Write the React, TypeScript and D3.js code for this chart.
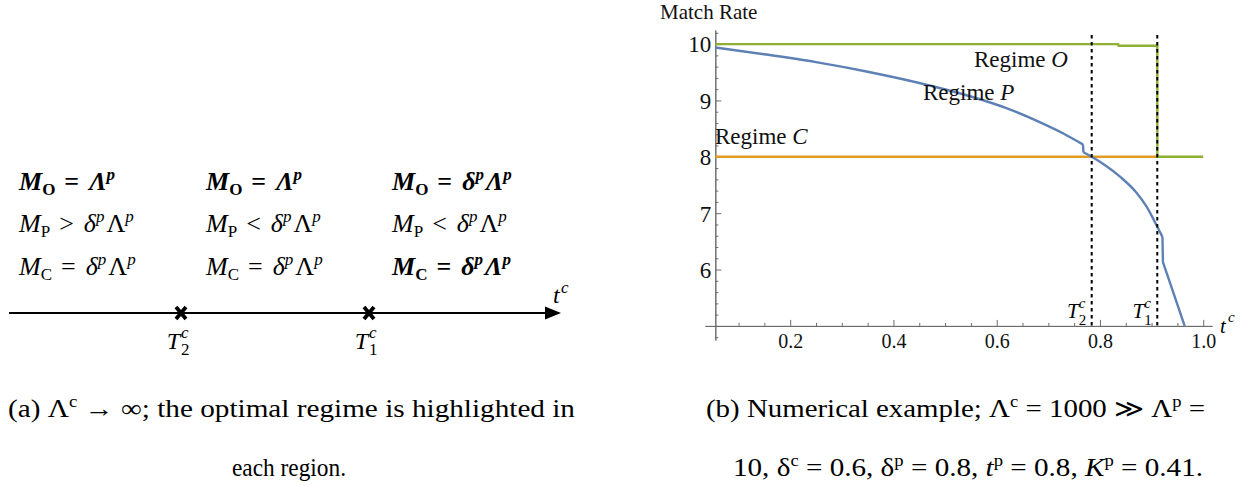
import { useEffect, useRef } from "react";
import * as d3 from "d3";

const W = 1250;
const H = 486;
const SERIF = "'Liberation Serif', 'Times New Roman', serif";

// ---- panel (b) data ----
// blue curve, split into smooth pieces at the two small jumps
const blueT = [0.055, 0.15, 0.25, 0.35, 0.45, 0.55, 0.62, 0.68, 0.73, 0.767, 0.768, 0.784, 0.81, 0.84, 0.87, 0.89, 0.911, 0.921, 0.922, 0.94, 0.964];
const blueV = [9.94, 9.82, 9.68, 9.51, 9.31, 9.07, 8.86, 8.63, 8.41, 8.22, 8.08, 8.0, 7.85, 7.64, 7.37, 7.12, 6.76, 6.58, 6.13, 5.65, 5.0];
const blueJumps = [9, 17]; // index where a vertical jump starts
const greenT = [0.055, 0.835, 0.836, 0.911, 0.9111, 1.0];
const greenV = [10, 10, 9.97, 9.97, 8, 8];
const orangeT = [0.055, 0.911];
const orangeV = [8, 8];
const thresholdT = [0.784, 0.911];
const thresholdSub = ["2", "1"];
const xMajor = [0.2, 0.4, 0.6, 0.8, 1.0];
const yMajor = [6, 7, 8, 9, 10];
const regimeNames = ["O", "P", "C"];
const regimeLabelX = [974, 923, 715];
const regimeLabelY = [67, 100, 144];

// ---- panel (a) data ----
const regimeRows = ["O", "P", "C"];
const relations = [
  ["=", "=", "="],
  [">", "<", "<"],
  ["=", "=", "="],
];
const rhsKind = [
  ["L", "L", "dL"],
  ["dL", "dL", "dL"],
  ["dL", "dL", "dL"],
];
const boldCells = [
  [true, true, true],
  [false, false, false],
  [false, false, true],
];
const colX = [19, 206, 392];
const rowY = [190, 232, 275];
const aMarks = ["2", "1"];
const aMarkX = [181, 369];

const xScale = d3.scaleLinear().domain([0.035, 1.017]).range([705, 1212]);
const yScale = d3.scaleLinear().domain([4.75, 10.25]).range([340, 30]);

const lineGen = (ts: number[], vs: number[], curve: any = d3.curveLinear) =>
  d3.line<number>()
    .x((_, i) => xScale(ts[i]))
    .y((v) => yScale(v))
    .curve(curve)(vs) || "";

function bluePath() {
  const cuts = [0, ...blueJumps.map((j) => j + 1), blueT.length];
  let d = "";
  for (let k = 0; k < cuts.length - 1; k++) {
    const ts = blueT.slice(cuts[k], cuts[k + 1]);
    const vs = blueV.slice(cuts[k], cuts[k + 1]);
    d += lineGen(ts, vs, d3.curveMonotoneX);
  }
  blueJumps.forEach((j) => {
    d += lineGen([blueT[j], blueT[j + 1]], [blueV[j], blueV[j + 1]]);
  });
  return d;
}

function MathCell({ x, y, reg, rel, kind, bold }: any) {
  const lam = bold ? "italic" : "normal";
  return (
    <text x={x} y={y} fontFamily={SERIF} fontSize={26} fontWeight={bold ? 700 : 400}>
      <tspan fontStyle="italic">M</tspan>
      <tspan fontSize={17} dy={5}>{reg}</tspan>
      <tspan dy={-5} dx={9}>{rel}</tspan>
      {kind === "dL" ? (
        <>
          <tspan fontStyle="italic" dx={10}>δ</tspan>
          <tspan fontSize={17} fontStyle="italic" dy={-10}>p</tspan>
          <tspan dy={10} dx={2} fontStyle={lam}>Λ</tspan>
        </>
      ) : (
        <tspan fontStyle={lam} dx={10}>Λ</tspan>
      )}
      <tspan fontSize={17} fontStyle="italic" dy={-10}>p</tspan>
    </text>
  );
}

export default function App() {
  const xAxisRef = useRef<SVGGElement>(null);
  const yAxisRef = useRef<SVGGElement>(null);

  useEffect(() => {
    const axisColor = "#6b6b6b";
    const gx = d3.select(xAxisRef.current);
    gx.selectAll("*").remove();
    const xMinor = d3.range(0.1, 1.0001, 0.05).filter((v) => !xMajor.some((m) => Math.abs(m - v) < 1e-6));
    gx.append("g").call(
      d3.axisBottom(xScale).tickValues(xMinor).tickSize(-3).tickSizeOuter(0).tickFormat(() => "")
    );
    gx.append("g").call(
      d3.axisBottom(xScale).tickValues(xMajor).tickSize(-6).tickSizeOuter(0).tickPadding(8).tickFormat(d3.format(".1f"))
    );

    const gy = d3.select(yAxisRef.current);
    gy.selectAll("*").remove();
    const yMinor = d3.range(4.8, 10.21, 0.2).filter((v) => !yMajor.some((m) => Math.abs(m - v) < 1e-6));
    gy.append("g").call(
      d3.axisLeft(yScale).tickValues(yMinor).tickSize(-3).tickSizeOuter(0).tickFormat(() => "")
    );
    gy.append("g").call(
      d3.axisLeft(yScale).tickValues(yMajor).tickSize(-6).tickSizeOuter(0).tickPadding(4).tickFormat(d3.format("d"))
    );

    [gx, gy].forEach((g) => {
      g.selectAll("path.domain").attr("stroke", axisColor).attr("stroke-width", 1);
      g.selectAll(".tick line").attr("stroke", axisColor).attr("stroke-width", 1);
      g.selectAll(".tick text").attr("fill", "#111").attr("font-family", SERIF);
    });
    gx.selectAll(".tick text").attr("font-size", 20);
    gy.selectAll(".tick text").attr("font-size", 23).attr("dy", "0.34em");
  }, []);

  const axisY = yScale(5);
  const axisX = xScale(0.055);
  const aAxisY = 313;

  return (
    <div style={{ position: "absolute", left: 0, top: 0 }}>
      <svg width={W} height={H} viewBox={`0 0 ${W} ${H}`} style={{ display: "block", background: "#fff" }}>
        {/* ---------- panel (a) ---------- */}
        {regimeRows.map((reg, r) =>
          colX.map((cx, c) => (
            <MathCell
              key={`${r}-${c}`}
              x={cx}
              y={rowY[r]}
              reg={reg}
              rel={relations[r][c]}
              kind={rhsKind[r][c]}
              bold={boldCells[r][c]}
            />
          ))
        )}
        <line x1={9} x2={548} y1={aAxisY} y2={aAxisY} stroke="#000" strokeWidth={2.2} />
        <path d={`M545,${aAxisY - 6.5} L561,${aAxisY} L545,${aAxisY + 6.5} Z`} fill="#000" />
        <text x={553} y={303} fontFamily={SERIF} fontSize={24} fontStyle="italic">t</text>
        <text x={561} y={293} fontFamily={SERIF} fontSize={17} fontStyle="italic">c</text>
        {aMarks.map((s, i) => (
          <g key={s}>
            <path
              d={`M${aMarkX[i] - 5},${aAxisY - 6} L${aMarkX[i] + 5},${aAxisY + 6} M${aMarkX[i] + 5},${aAxisY - 6} L${aMarkX[i] - 5},${aAxisY + 6}`}
              stroke="#000"
              strokeWidth={3.8}
            />
            <text x={aMarkX[i] - 1} y={349} textAnchor="end" fontFamily={SERIF} fontSize={24} fontStyle="italic">T</text>
            <text x={aMarkX[i]} y={338} fontFamily={SERIF} fontSize={17} fontStyle="italic">c</text>
            <text x={aMarkX[i]} y={355} fontFamily={SERIF} fontSize={17}>{s}</text>
          </g>
        ))}

        {/* ---------- panel (b) ---------- */}
        <text x={660} y={19} fontFamily={SERIF} fontSize={21} fill="#111">Match Rate</text>
        <g ref={xAxisRef} transform={`translate(0,${axisY})`} />
        <g ref={yAxisRef} transform={`translate(${axisX},0)`} />

        <path d={lineGen(orangeT, orangeV)} fill="none" stroke="#E19C24" strokeWidth={2.4} />
        <path d={lineGen(greenT, greenV)} fill="none" stroke="#8FB032" strokeWidth={2.4} />
        <path d={bluePath()} fill="none" stroke="#5E81B5" strokeWidth={2.4} strokeLinejoin="round" />

        {thresholdT.map((t, i) => (
          <g key={t}>
            <line x1={xScale(t)} x2={xScale(t)} y1={yScale(10.16)} y2={axisY} stroke="#000" strokeWidth={2} strokeDasharray="3.5,3.5" />
            <text x={xScale(t) - 13} y={318} textAnchor="end" fontFamily={SERIF} fontSize={21} fontStyle="italic">T</text>
            <text x={xScale(t) - 13} y={308} fontFamily={SERIF} fontSize={15} fontStyle="italic">c</text>
            <text x={xScale(t) - 13} y={325} fontFamily={SERIF} fontSize={15}>{thresholdSub[i]}</text>
          </g>
        ))}

        {regimeNames.map((name, i) => (
          <text key={name} x={regimeLabelX[i]} y={regimeLabelY[i]} fontFamily={SERIF} fontSize={23} fill="#111">
            Regime <tspan fontStyle="italic">{name}</tspan>
          </text>
        ))}

        <text x={1220} y={333} fontFamily={SERIF} fontSize={21} fontStyle="italic">t</text>
        <text x={1228} y={322} fontFamily={SERIF} fontSize={15} fontStyle="italic">c</text>

        {/* ---------- captions ---------- */}
        <text x={8} y={417} fontFamily={SERIF} fontSize={25} textLength={567} lengthAdjust="spacingAndGlyphs">
          (a) Λ<tspan fontSize={16} dy={-10}>c</tspan>
          <tspan dy={10}> → ∞; the optimal regime is highlighted in</tspan>
        </text>
        <text x={289} y={476} textAnchor="middle" fontFamily={SERIF} fontSize={25} textLength={114} lengthAdjust="spacingAndGlyphs">
          each region.
        </text>
        <text x={706} y={417} fontFamily={SERIF} fontSize={25} textLength={499} lengthAdjust="spacingAndGlyphs">
          (b) Numerical example; Λ<tspan fontSize={16} dy={-10}>c</tspan>
          <tspan dy={10}> = 1000 ≫ Λ</tspan>
          <tspan fontSize={16} dy={-10}>p</tspan>
          <tspan dy={10}> =</tspan>
        </text>
        <text x={733} y={476} fontFamily={SERIF} fontSize={25} textLength={470} lengthAdjust="spacingAndGlyphs">
          10, δ<tspan fontSize={16} dy={-10}>c</tspan>
          <tspan dy={10}> = 0.6, δ</tspan>
          <tspan fontSize={16} dy={-10}>p</tspan>
          <tspan dy={10}> = 0.8, </tspan>
          <tspan fontStyle="italic">t</tspan>
          <tspan fontSize={16} dy={-10}>p</tspan>
          <tspan dy={10}> = 0.8, </tspan>
          <tspan fontStyle="italic">K</tspan>
          <tspan fontSize={16} dy={-10}>p</tspan>
          <tspan dy={10}> = 0.41.</tspan>
        </text>
      </svg>
    </div>
  );
}
